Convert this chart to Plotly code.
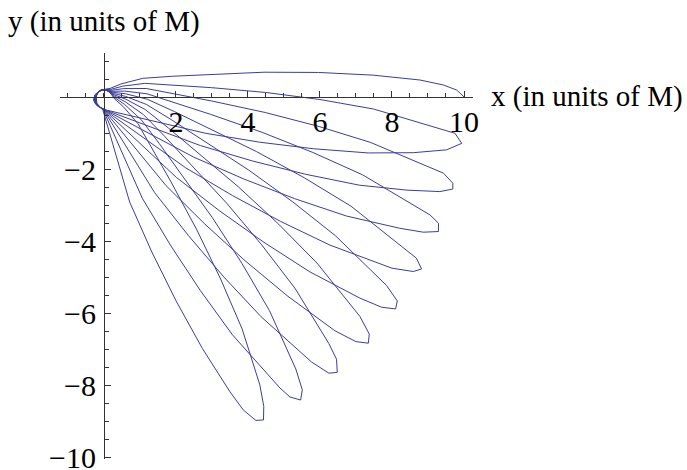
import numpy as np
import plotly.graph_objects as go

# ---- data (polar: radius in M, angle in degrees) ----
# radii at which the outer part of each leg was sampled
lower_r = [3.0, 4.5, 6.0, 7.5]
upper_r = [0.3, 0.6, 1.2, 2.0, 3.0, 4.5, 6.0, 7.5]

# point near the origin where each outgoing leg leaves the whirl
lower_start_r = 0.36
lower_start_deg = {2: -80.0, 3: -81.8, 4: -83.6, 5: -85.4, 6: -87.2,
                   7: -89.0, 8: -90.8, 9: -92.6, 10: -94.4}
# outgoing leg of each petal (below the apoastron direction), angles at lower_r
lower_leg_deg = {
    2: [-19.5, -16.1, -13.8, -11.9],
    3: [-26.6, -23.2, -20.9, -19.0],
    4: [-33.7, -30.3, -28.0, -26.1],
    5: [-40.8, -37.4, -35.1, -33.2],
    6: [-47.9, -44.5, -42.2, -40.3],
    7: [-54.9, -51.5, -49.2, -47.3],
    8: [-62.0, -58.6, -56.3, -54.4],
    9: [-69.2, -65.8, -63.5, -61.6],
    10: [-76.2, -72.8, -70.5, -68.6],
}
# returning leg of each petal (above the apoastron direction), angles at upper_r
upper_leg_deg = {
    1: [55.0, 38.0, 26.0, 17.0, 12.3, 8.9, 6.6, 4.7],
    2: [47.8, 30.8, 18.8, 9.8, 5.1, 1.7, -0.6, -2.5],
    3: [40.7, 23.7, 11.7, 2.7, -2.0, -5.4, -7.7, -9.6],
    4: [33.6, 16.6, 4.6, -4.4, -9.1, -12.5, -14.8, -16.7],
    5: [26.5, 9.5, -2.5, -11.5, -16.2, -19.6, -21.9, -23.8],
    6: [19.4, 2.4, -9.6, -18.6, -23.3, -26.7, -29.0, -30.9],
    7: [12.4, -4.6, -16.6, -25.6, -30.3, -33.7, -36.0, -37.9],
    8: [5.3, -11.7, -23.7, -32.7, -37.4, -40.8, -43.1, -45.0],
    9: [-1.9, -18.9, -30.9, -39.9, -44.6, -48.0, -50.3, -52.2],
    10: [-8.9, -25.9, -37.9, -46.9, -51.6, -55.0, -57.3, -59.2],
}
# apoastron (tip) polygons, from the outgoing side to the returning side
tip_r = {
    1: [10.01, 9.80, 9.44, 8.79],
    2: [8.73, 9.63, 10.02, 9.80],
    3: [8.80, 9.69, 10.02, 9.98, 9.66],
    4: [8.99, 9.63, 10.01, 9.93, 9.63],
    5: [9.30, 9.86, 10.03, 9.76],
    6: [9.04, 9.67, 10.01, 9.92, 9.43],
    7: [9.13, 9.75, 10.03, 9.88, 9.36],
    8: [9.35, 9.89, 10.02, 9.73, 9.26],
    9: [9.44, 9.80, 10.03, 9.82, 9.24],
    10: [8.90, 9.51, 9.92, 10.00, 9.67, 9.09],
}
tip_deg = {
    1: [0.0, 1.17, 2.06, 3.13],
    2: [-10.16, -8.72, -7.34, -5.86],
    3: [-17.05, -15.69, -14.74, -13.85, -12.6],
    4: [-23.89, -22.91, -21.88, -20.64, -19.85],
    5: [-30.7, -29.4, -28.4, -27.25],
    6: [-38.13, -37.1, -35.98, -34.78, -33.67],
    7: [-45.31, -44.13, -42.94, -41.76, -40.58],
    8: [-51.9, -50.82, -49.7, -48.4, -47.6],
    9: [-58.82, -58.18, -57.0, -55.87, -54.78],
    10: [-66.84, -65.99, -64.83, -63.7, -62.67, -61.55],
}
# whirl around the origin after each petal (over the top, down the left side)
whirl_r = [0.22, 0.22, 0.22, 0.26, 0.30]
whirl_deg = {
    1: [86.5, 131.5, 176.5, 221.5, 251.5],
    2: [79.3, 124.3, 169.3, 214.3, 244.3],
    3: [72.2, 117.2, 162.2, 207.2, 237.2],
    4: [65.1, 110.1, 155.1, 200.1, 230.1],
    5: [58.0, 103.0, 148.0, 193.0, 223.0],
    6: [50.9, 95.9, 140.9, 185.9, 215.9],
    7: [43.9, 88.9, 133.9, 178.9, 208.9],
    8: [36.8, 81.8, 126.8, 171.8, 201.8],
    9: [29.6, 74.6, 119.6, 164.6, 194.6],
    10: [22.6, 67.6, 112.6],
}

x_ticks = [2, 4, 6, 8, 10]
x_tick_text = ["2", "4", "6", "8", "10"]
y_ticks = [-2, -4, -6, -8, -10]
y_tick_text = ["\u22122", "\u22124", "\u22126", "\u22128", "\u221210"]

# ---- assemble the orbit as one polyline (polar -> cartesian) ----
R, A = [], []
for k in range(1, 11):
    if k in lower_leg_deg:
        R += [lower_start_r] + lower_r
        A += [lower_start_deg[k]] + lower_leg_deg[k]
    R += tip_r[k]
    A += tip_deg[k]
    R += upper_r[::-1]
    A += upper_leg_deg[k][::-1]
    R += whirl_r[:len(whirl_deg[k])]
    A += whirl_deg[k]
R = np.array(R)
A = np.radians(np.array(A))
xs = R * np.cos(A)
ys = R * np.sin(A)

X0, X1 = -1.22, 10.25
Y0, Y1 = -10.05, 1.23
ML, MR, MT, MB = 60, 214, 53, 11
PW = 687 - ML - MR
PH = 470 - MT - MB

axis_col = "#333333"
tick_font = dict(family="Liberation Serif, Times New Roman, serif", size=30, color="black")

fig = go.Figure(go.Scatter(x=xs, y=ys, mode="lines",
                           line=dict(color="rgb(61,61,153)", width=1),
                           hoverinfo="skip"))

fig.update_layout(
    width=687, height=470,
    margin=dict(l=ML, r=MR, t=MT, b=MB, autoexpand=False),
    paper_bgcolor="white", plot_bgcolor="white",
    showlegend=False,
)
fig.update_xaxes(
    range=[X0, X1], anchor="free", position=(0 - Y0) / (Y1 - Y0), side="bottom",
    showline=True, linecolor=axis_col, linewidth=1,
    showgrid=False, zeroline=False, automargin=False,
    ticks="inside", ticklen=6, tickwidth=1, tickcolor=axis_col,
    tickmode="array", tickvals=x_ticks, ticktext=x_tick_text,
    tickfont=tick_font, ticklabelstandoff=-2, ticklabeloverflow="allow",
    minor=dict(ticks="inside", ticklen=4, tickwidth=1, tickcolor=axis_col,
               tick0=0, dtick=0.5, showgrid=False),
)
fig.update_yaxes(
    range=[Y0, Y1], anchor="free", position=(0 - X0) / (X1 - X0), side="left",
    showline=True, linecolor=axis_col, linewidth=1,
    showgrid=False, zeroline=False, automargin=False,
    ticks="inside", ticklen=6, tickwidth=1, tickcolor=axis_col,
    tickmode="array", tickvals=y_ticks, ticktext=y_tick_text,
    tickfont=tick_font, ticklabelstandoff=2, ticklabeloverflow="allow",
    minor=dict(ticks="inside", ticklen=4, tickwidth=1, tickcolor=axis_col,
               tick0=0, dtick=0.5, showgrid=False),
)

label_font = dict(family="Liberation Serif, Times New Roman, serif", size=29, color="black")
fig.add_annotation(text="y (in units of M)", xref="paper", yref="paper",
                   x=(6 - ML) / PW, y=(470 - MB - 22) / PH,
                   xanchor="left", yanchor="middle", showarrow=False, font=label_font)
fig.add_annotation(text="x (in units of M)", xref="paper", yref="paper",
                   x=(489 - ML) / PW, y=(470 - MB - 96) / PH,
                   xanchor="left", yanchor="middle", showarrow=False, font=label_font)

fig.write_html("out.html",
               config={"displayModeBar": False, "staticPlot": True},
               post_script="document.body.style.margin='0';document.body.style.overflow='hidden';")
